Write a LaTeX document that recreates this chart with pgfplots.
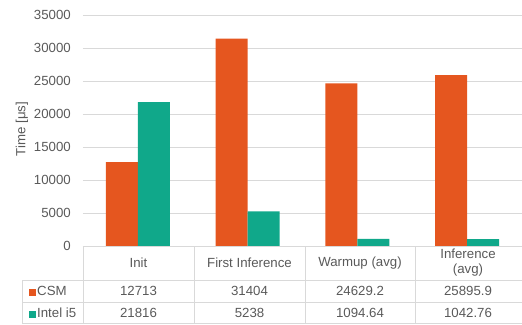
\documentclass[border=0pt]{standalone}
\usepackage{pgfplots}
\pgfplotsset{compat=1.18}
\usepackage{fontspec}
\setmainfont{Liberation Sans}
\definecolor{csm}{RGB}{229,86,31}
\definecolor{intel}{RGB}{16,168,138}
\definecolor{txt}{RGB}{89,89,89}
\definecolor{gridc}{RGB}{217,217,217}
\newcommand{\tf}{\fontsize{13.3}{15}\selectfont\color{txt}}
\begin{document}
\begin{tikzpicture}[x=1bp,y=1bp]
\useasboundingbox (-83,-78) rectangle (439,246);
\begin{axis}[
  at={(0,0)}, anchor=south west,
  scale only axis, width=439bp, height=231bp,
  xmin=-0.5, xmax=3.5, ymin=0, ymax=35000,
  ybar=0pt, bar width=32bp,
  axis line style={draw=none},
  xtick=\empty,
  ytick={0,5000,...,35000},
  ytick pos=left,
  ymajorgrids, grid style={gridc, line width=1bp},
  major tick length=0pt,
  yticklabel style={font=\tf, inner sep=0pt, xshift=-12bp, anchor=east},
  /pgf/number format/assume math mode=true,
  /pgf/number format/1000 sep={},
  scaled y ticks=false,
  clip=false,
]
\addplot[fill=csm, draw=none] coordinates {(0,12713) (1,31404) (2,24629.2) (3,25895.9)};
\addplot[fill=intel, draw=none] coordinates {(0,21816) (1,5238) (2,1094.64) (3,1042.76)};
\end{axis}
% y label
\node[rotate=90, font=\tf] at (-61,117) {Time [μs]};
% table grid
\begin{scope}[draw=gridc, line width=1bp]
\draw (0,0) -- (439,0);
\draw (-60,-34) -- (439,-34);
\draw (-60,-56) -- (439,-56);
\draw (-60,-77.5) -- (439,-77.5);
\draw (0,0) -- (0,-78);
\draw (111,0) -- (111,-78);
\draw (222,0) -- (222,-78);
\draw (332,0) -- (332,-78);
\draw (-60,-34) -- (-60,-78);
\end{scope}
% header
\node[font=\tf] at (55.5,-17) {Init};
\node[font=\tf] at (166.5,-17) {First Inference};
\node[font=\tf] at (277,-17) {Warmup (avg)};
\node[font=\tf, align=center] at (385,-17) {Inference\\(avg)};
% row labels
\node[font=\tf, anchor=west, inner sep=0pt] at (-54,-45) {\textcolor{csm}{\rule{6.5bp}{6.5bp}}\hspace{1.5bp}CSM};
\node[font=\tf, anchor=west, inner sep=0pt] at (-54,-67) {\textcolor{intel}{\rule{6.5bp}{6.5bp}}\hspace{1.5bp}Intel i5};
% values
\node[font=\tf] at (55.5,-45) {12713};
\node[font=\tf] at (166.5,-45) {31404};
\node[font=\tf] at (277,-45) {24629.2};
\node[font=\tf] at (385,-45) {25895.9};
\node[font=\tf] at (55.5,-67) {21816};
\node[font=\tf] at (166.5,-67) {5238};
\node[font=\tf] at (277,-67) {1094.64};
\node[font=\tf] at (385,-67) {1042.76};
\end{tikzpicture}
\end{document}
